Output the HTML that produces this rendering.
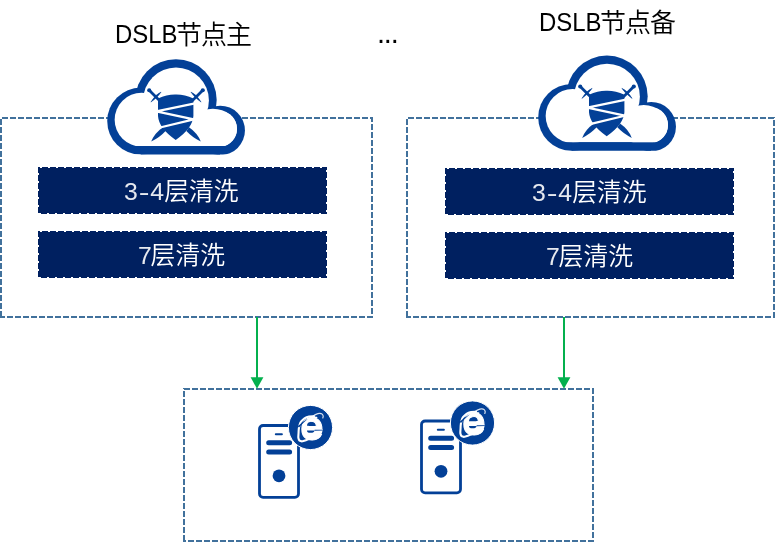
<!DOCTYPE html>
<html lang="zh-CN">
<head>
<meta charset="utf-8">
<title>DSLB</title>
<style>
html,body{margin:0;padding:0;background:#fff;}
body{width:775px;height:543px;position:relative;overflow:hidden;font-family:"Liberation Sans","Noto Sans CJK SC",sans-serif;}
svg{position:absolute;left:0;top:0;will-change:transform;}
.t{position:absolute;white-space:nowrap;line-height:1;margin:0;will-change:transform;}
.title{color:#000;font-size:26px;letter-spacing:-1px;font-weight:350;}
.title .lat{display:inline-block;font-size:26.6px;letter-spacing:0;transform:scaleX(.9);transform-origin:0 100%;margin-right:-8.4px;position:relative;top:-1px;font-weight:400;}
.lbl{color:#fff;font-size:24.8px;font-weight:350;}
.lbl .lat{font-size:24.8px;letter-spacing:0;font-weight:400;color:rgba(255,255,255,.9);}
.lbl .hy{display:inline-block;transform:scaleX(1.3);margin:0 2px 0 2.2px;}
.lbl .d4{margin-right:.2px;}
.lbl .d7{margin-right:-1.2px;}
.dots{color:#000;font-size:29px;letter-spacing:-1.21px;}
</style>
</head>
<body>
<svg width="775" height="543" viewBox="0 0 775 543">
  <defs>
    <g id="cloud">
      <clipPath id="co"><rect x="100" y="50" width="160" height="104.45"/></clipPath>
      <clipPath id="ci"><rect x="100" y="50" width="160" height="96"/></clipPath>
      <g fill="#034097" clip-path="url(#co)">
        <circle cx="140.72" cy="121.1" r="33.5"/>
        <circle cx="175.94" cy="100" r="40.74"/>
        <circle cx="220.2" cy="130.4" r="24.75"/>
        <rect x="140.7" y="120" width="79.3" height="35"/>
      </g>
      <g fill="#fff" clip-path="url(#ci)">
        <circle cx="141.62" cy="119.7" r="26.96"/>
        <circle cx="176" cy="100.4" r="32.9"/>
        <ellipse cx="212.84" cy="128.78" rx="24.16" ry="19.96"/>
        <ellipse cx="222" cy="128.8" rx="15" ry="17"/>
        <rect x="141.6" y="119" width="80.4" height="27"/>
      </g>
      <g fill="#034097" stroke="none">
        <!-- swords -->
        <g id="sword">
          <circle cx="149.2" cy="90.2" r="2.05"/>
          <path d="M149.2,90.2 L160,101" stroke="#034097" stroke-width="2.7" fill="none"/>
          <path d="M161.1,92 Q155.3,94.4 150.9,102.1 Q157.9,97.2 161.1,92 Z" stroke="#034097" stroke-width="0.5" stroke-linejoin="round"/>
          <path d="M189,127.2 Q197.5,133 200.8,141.6 Q192,137.2 186.4,131 Z"/>
        </g>
        <use href="#sword" transform="translate(352,0) scale(-1,1)"/>
        <!-- shield -->
        <path d="M158,98.4 Q167,94.2 175.7,94.4 Q184.5,94.2 193.4,98.4 L193.4,116 Q192.5,128.5 175.7,139.9 Q158.9,128.5 158,116 Z"/>
      </g>
      <path d="M195,103.4 L156.3,111.4 L193.8,119.4 L159,127.8" fill="none" stroke="#fff" stroke-width="2.2" stroke-linejoin="miter"/>
    </g>
    <g id="pc">
      <rect x="259.5" y="425.5" width="39" height="71.9" rx="3.6" ry="3.6" fill="#fff" stroke="#034097" stroke-width="2.8"/>
      <path d="M275.8,434.2 H281.9" stroke="#034097" stroke-width="2" stroke-linecap="round" fill="none"/>
      <path d="M268.7,442.8 H289.6 M268.7,452 H289.6" stroke="#034097" stroke-width="5" stroke-linecap="round" fill="none"/>
      <circle cx="279" cy="475.8" r="6.4" fill="#034097"/>
      <circle cx="310.5" cy="427.5" r="22.1" fill="#034097" stroke="#fff" stroke-width="1"/>
      <text transform="translate(300.2,439.5) scale(1.04,1)" x="0" y="0" font-family="Liberation Sans, sans-serif" font-weight="bold" font-size="40" fill="#fff" stroke="#fff" stroke-width="1" stroke-linejoin="round">e</text>
      <path d="M306,429.2 L322.9,429.2 Q322.6,433.6 319.2,436.8 L306,436.8 Z" fill="#fff"/>
      <path d="M307.6,418.6 Q311,417.1 316.5,417.6" fill="none" stroke="#fff" stroke-width="1.8" stroke-linecap="round"/>
      <path d="M307,425.8 A3.7,3.8 0 0 1 314.4,425.8 Z M307,430.4 L314.6,430.4 L314.6,429.7 L322.9,429.7 L322.9,430.6 L314.4,430.7 A3.7,2.3 0 0 1 307,430.4 Z" fill="#034097"/>
      <path d="M314.0,416.3 C313.2,416.3 310.6,416.2 309.0,416.5 C307.4,416.8 305.8,417.4 304.5,418.3 C303.2,419.2 301.9,420.5 301.0,421.7 C300.1,422.9 299.8,424.3 299.4,425.7 C299.0,427.1 298.8,428.6 298.7,430.0 C298.6,431.4 298.6,432.7 298.5,434.0 C298.4,435.3 298.2,436.9 298.4,438.0 C298.6,439.1 298.9,440.1 299.6,440.7 C300.3,441.2 301.4,441.4 302.5,441.3 C303.6,441.2 305.2,440.4 306.5,440.0 C307.8,439.6 309.4,438.8 310.0,438.6" fill="none" stroke="#fff" stroke-width="2.1" stroke-linecap="round" stroke-linejoin="round"/>
      <path d="M313.0,416.2 C313.5,415.9 314.9,414.9 316.0,414.4 C317.1,413.9 318.4,413.4 319.4,413.3 C320.4,413.2 321.6,413.6 322.2,414.1 C322.8,414.6 323.1,415.6 323.2,416.2 C323.3,416.8 322.9,417.7 322.8,418.0" fill="none" stroke="#fff" stroke-width="1.2" stroke-linecap="round" stroke-linejoin="round" opacity="0.85"/>
      <path d="M297.7,426.3 Q302,422 307.9,418.8 Q303,423 299,427.6 Z" fill="#034097"/>
    </g>
  </defs>

  <!-- dashed containers -->
  <g fill="none" stroke="#41719c" stroke-width="2" stroke-dasharray="6 2">
    <path d="M0,118 L373,118" stroke-dashoffset="-2"/>
    <path d="M372,117 L372,318" stroke-dashoffset="1"/>
    <path d="M0,317 L373,317" stroke-dashoffset="1"/>
    <path d="M1,117 L1,318" stroke-dashoffset="-2"/>
    <path d="M406,118 L775,118" stroke-dashoffset="-2"/>
    <path d="M774,117 L774,318" stroke-dashoffset="-3"/>
    <path d="M406,317 L775,317" stroke-dashoffset="1"/>
    <path d="M407,117 L407,318" stroke-dashoffset="-2"/>
    <path d="M183,389 L594,389" stroke-dashoffset="-1"/>
    <path d="M593,388 L593,542" stroke-dashoffset="0"/>
    <path d="M183,541 L594,541" stroke-dashoffset="3"/>
    <path d="M184,388 L184,542" stroke-dashoffset="-3"/>
  </g>

  <!-- dark bars -->
  <g fill="#002060" stroke="#002060" stroke-width="2" stroke-dasharray="6 2">
    <rect x="39" y="168" width="287" height="45" stroke-dashoffset="5"/>
    <rect x="39" y="232" width="287" height="45" stroke-dashoffset="5"/>
    <rect x="446" y="169" width="287" height="45" stroke-dashoffset="5"/>
    <rect x="446" y="233" width="287" height="45" stroke-dashoffset="5"/>
  </g>

  <!-- arrows -->
  <g fill="#04b04e" stroke="none">
    <rect x="256" y="317" width="2" height="62"/>
    <path d="M250.6,377.2 L263.4,377.2 L257,388.7 Z"/>
    <rect x="563" y="317" width="2" height="62"/>
    <path d="M557.6,377.2 L570.4,377.2 L564,388.7 Z"/>
  </g>

  <use href="#cloud"/>
  <use href="#cloud" transform="translate(431,-3.7)"/>
  <use href="#pc"/>
  <use href="#pc" transform="translate(162,-4.5)"/>
</svg>

<div class="t title" style="left:115.3px;top:21.6px;"><span class="lat">DSLB</span>节点主</div>
<div class="t title" style="left:539.3px;top:10.2px;"><span class="lat">DSLB</span>节点备</div>
<div class="t dots" style="left:377px;top:18.6px;">...</div>

<div class="t lbl" style="left:124.3px;top:179.5px;"><span class="lat">3<span class="hy">-</span><span class="d4">4</span></span>层清洗</div>
<div class="t lbl" style="left:138.3px;top:243.5px;"><span class="lat d7">7</span>层清洗</div>
<div class="t lbl" style="left:532.3px;top:180.5px;"><span class="lat">3<span class="hy">-</span><span class="d4">4</span></span>层清洗</div>
<div class="t lbl" style="left:546.3px;top:244.5px;"><span class="lat d7">7</span>层清洗</div>
</body>
</html>
